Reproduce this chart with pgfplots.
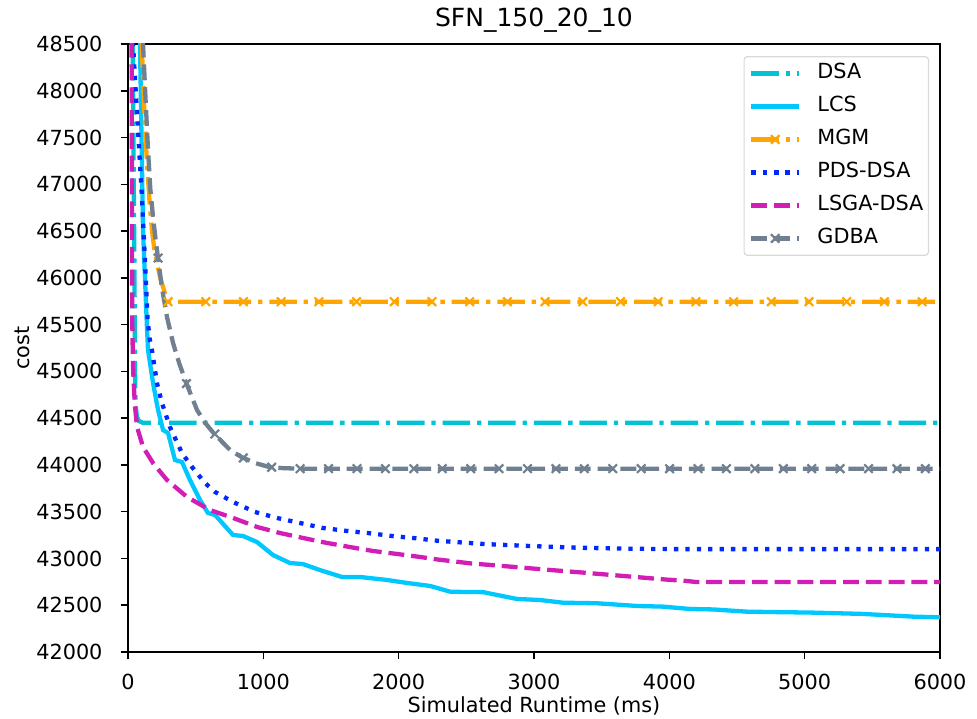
\documentclass[border=0pt]{standalone}
\usepackage{pgfplots}
\pgfplotsset{compat=1.18}
\usepackage{fontspec}
\setmainfont{DejaVu Sans}
\definecolor{cDSA}{RGB}{0,196,212}
\definecolor{cLCS}{RGB}{0,200,255}
\definecolor{cMGM}{RGB}{255,165,0}
\definecolor{cPDS}{RGB}{0,40,255}
\definecolor{cLSGA}{RGB}{210,30,180}
\definecolor{cGDBA}{RGB}{112,128,144}
\newcommand{\lblfont}{\fontsize{20.8bp}{24bp}\selectfont}
\tikzset{
  dashdotmpl/.style={dash pattern=on 27.5bp off 6.9bp on 4.3bp off 6.9bp},
  dashedmpl/.style={dash pattern=on 15.9bp off 6.9bp},
  dottedmpl/.style={dash pattern=on 4.3bp off 7.1bp},
  xmk/.style={mark=x, mark size=6bp, mark options={solid, line width=2.2bp}},
}
\begin{document}
\begin{tikzpicture}
\useasboundingbox (-128bp,-67bp) rectangle (849bp,652bp);
\begin{axis}[
  scale only axis, width=812bp, height=608bp,
  xmin=0, xmax=6000, ymin=42000, ymax=48500,
  xtick={0,1000,2000,3000,4000,5000,6000},
  ytick={42000,42500,...,48500},
  scaled ticks=false,
  /pgf/number format/set thousands separator={},
  /pgf/number format/assume math mode=true,
  tick align=outside, tick pos=left,
  major tick length=7.3bp,
  tick style={line width=1.6bp, black},
  axis line style={line width=1.6bp},
  tick label style={font=\lblfont},
  xticklabel style={inner sep=0pt, anchor=base, yshift=-30bp},
  yticklabel style={inner sep=0pt, anchor=east, xshift=-18bp},
  title={SFN\_150\_20\_10},
  title style={font=\fontsize{25bp}{30bp}\selectfont, at={(axis description cs:0.5,1.0197)}, anchor=base, inner sep=0pt},
  xlabel={Simulated Runtime (ms)},
  xlabel style={font=\lblfont, at={(axis description cs:0.5,-0.1003)}, anchor=base, inner sep=0pt},
  ylabel={cost},
  ylabel style={font=\lblfont, at={(axis description cs:-0.1219,0.5)}, anchor=base, inner sep=0pt},
  legend style={at={(0.9865,0.980)}, anchor=north east, draw=black!15, line width=1.2bp,
    rounded corners=3bp, font=\lblfont, inner xsep=5bp, inner ysep=7bp,
    row sep=13.6bp, column sep=16bp,
    nodes={inner sep=0pt, text height=15.2bp, text depth=4.2bp}},
  legend cell align=left,
  legend image code/.code={\draw[mark repeat=2,mark phase=2] plot coordinates {(0bp,0bp) (24bp,0bp) (48bp,0bp)};},
  every axis plot/.append style={line width=4.3bp},
]
% DSA
\addplot[cDSA, dashdotmpl] coordinates {
(30,49500) (40,47500) (48,46000) (52,45000) (56,44650) (65,44520) (80,44470) (110,44450) (6000,44450)};
\addlegendentry{DSA}
% LCS
\addplot[cLCS] coordinates {
(80,49300) (89,48470) (111,46512) (140,45475) (148,45229) (185,44876) (222,44587) (259,44373) (296,44341)
(347,44053) (399,44031) (458,43839) (532,43625) (591,43486) (643,43465) (776,43251) (850,43240)
(953,43176) (1071,43037) (1197,42951) (1293,42940) (1419,42876) (1581,42802) (1714,42802) (1914,42770)
(2062,42738) (2232,42706) (2380,42645) (2475,42642) (2623,42640) (2874,42567) (3044,42556) (3214,42527)
(3466,42521) (3761,42492) (3953,42485) (4153,42460) (4323,42455) (4574,42431) (5062,42421) (5431,42407)
(5801,42378) (6000,42371)};
\addlegendentry{LCS}
% MGM
\addplot[cMGM, dashdotmpl, legend image post style={xmk}] coordinates {
(70,50000) (90,49100) (103,48450) (120,47800) (140,47228) (160,46800) (177,46512) (195,46300) (214,46159)
(240,45990) (273,45838) (296,45745) (6000,45745)};
\addlegendentry{MGM}
\addplot[cMGM, only marks, xmk, forget plot] coordinates {
(296,45745) (574.6,45745) (853.2,45745) (1131.8,45745) (1410.4,45745) (1689,45745) (1967.6,45745)
(2246.2,45745) (2524.8,45745) (2803.4,45745) (3082,45745) (3360.6,45745) (3639.2,45745) (3917.8,45745)
(4196.4,45745) (4475,45745) (4753.6,45745) (5032.2,45745) (5310.8,45745) (5589.4,45745) (5868,45745)};
% PDS-DSA
\addplot[cPDS, dottedmpl] coordinates {
(25,49500) (37,48500) (74,47580) (103,46864) (126,46159) (145,45550) (160,45350) (177,45229) (214,44876)
(251,44662) (310,44405) (399,44127) (473,43978) (569,43807) (643,43711) (776,43604) (938,43497)
(1101,43433) (1271,43379) (1441,43326) (1618,43294) (1773,43272) (1951,43240) (2106,43219) (2283,43190)
(2623,43155) (2971,43133) (3318,43115) (3658,43105) (4000,43100) (6000,43100)};
\addlegendentry{PDS-DSA}
% LSGA-DSA
\addplot[cLSGA, dashedmpl] coordinates {
(25,49500) (29,47000) (31,45582) (37,45047) (50,44650) (67,44405) (111,44192) (185,44020) (288,43839)
(436,43657) (606,43518) (776,43433) (953,43337) (1123,43272) (1293,43219) (1470,43166) (1640,43122)
(1810,43080) (1988,43048) (2158,43016) (2283,42990) (2527,42948) (2823,42913) (3118,42877) (3362,42849)
(3658,42813) (3953,42777) (4130,42759) (4200,42748) (6000,42748)};
\addlegendentry{LSGA-DSA}
% GDBA
\addplot[cGDBA, dashedmpl, legend image post style={xmk}] coordinates {
(95,49500) (111,48500) (130,47900) (148,47367) (165,46950) (185,46650) (203,46420) (222,46212)
(250,45900) (288,45582) (333,45303) (380,45080) (432,44870) (510,44587) (570,44450) (632,44341)
(700,44240) (754,44160) (837,44085) (940,44020) (1042,43978) (1150,43965) (1272,43960) (6000,43960)};
\addlegendentry{GDBA}
\addplot[cGDBA, only marks, xmk, forget plot] coordinates {
(222,46212) (432,44870) (642,44330) (852,44075) (1062,43975) (1272,43960) (1482,43960) (1692,43960)
(1902,43960) (2112,43960) (2322,43960) (2532,43960) (2742,43960) (2952,43960) (3162,43960) (3372,43960)
(3582,43960) (3792,43960) (4002,43960) (4212,43960) (4422,43960) (4632,43960) (4842,43960) (5052,43960)
(5262,43960) (5472,43960) (5682,43960) (5892,43960)};
\end{axis}
\end{tikzpicture}
\end{document}
